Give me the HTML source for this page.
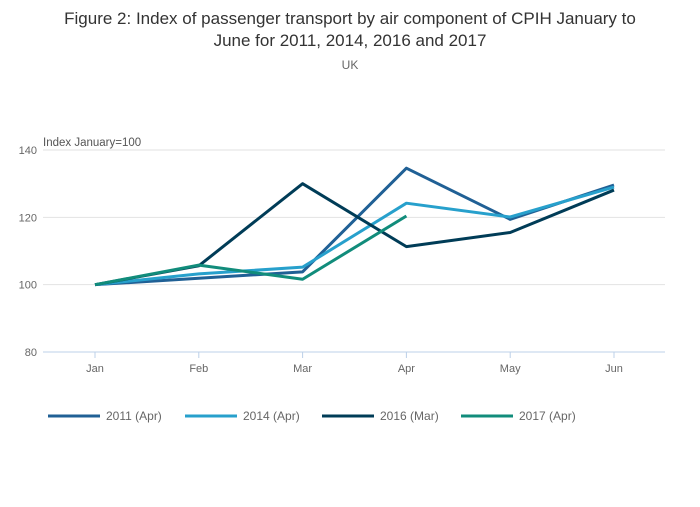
<!DOCTYPE html>
<html><head><meta charset="utf-8"><style>
body{margin:0;background:#fff;font-family:"Liberation Sans",sans-serif;}
svg text{font-family:"Liberation Sans",sans-serif;}
</style></head><body>
<svg width="700" height="502" id="c">
<text x="350" y="24" text-anchor="middle" font-size="17" fill="#333">Figure 2: Index of passenger transport by air component of CPIH January to</text>
<text x="350" y="46" text-anchor="middle" font-size="17" fill="#333">June for 2011, 2014, 2016 and 2017</text>
<text x="350" y="69" text-anchor="middle" font-size="12" fill="#666">UK</text>
<text x="43" y="146" font-size="11.5" fill="#555">Index January=100</text>
<g id="grid"></g><g id="lines"></g><g id="legend"></g>
</svg>
<script>
const months=["Jan","Feb","Mar","Apr","May","Jun"];
const yTicks=[80,100,120,140];
const seriesNames=["2011 (Apr)","2014 (Apr)","2016 (Mar)","2017 (Apr)"];
const s2011=[100,101.9,103.8,134.6,119.4,129.6];
const s2014=[100,103.2,105.2,124.2,120.1,129];
const s2016=[100,105.6,130,111.3,115.5,128.1];
const s2017=[100,105.8,101.6,120.4];
const colors=["#206095","#27a0cc","#003c57","#118c7b"];
const allSeries=[s2011,s2014,s2016,s2017];
const NS="http://www.w3.org/2000/svg";
const x=i=>95+i*103.8;
const y=v=>352-(v-80)*202/60;
function mk(t,a,p){const e=document.createElementNS(NS,t);for(const k in a)e.setAttribute(k,a[k]);p.appendChild(e);return e;}
const g=document.getElementById('grid');
yTicks.forEach(v=>{
 if(v>80){const l=mk('line',{x1:43,x2:665,y1:y(v),y2:y(v),stroke:'#e2e2e2','stroke-width':1},g);
 
 }
 const t=mk('text',{x:37,y:y(v)+4,'text-anchor':'end','font-size':11,fill:'#666'},g);t.textContent=v;
 
 
});
const ax=mk('line',{x1:43,x2:665,y1:352,y2:352,stroke:'#bcd0e8'},g);


months.forEach((m,i)=>{
 const tk=mk('line',{x1:x(i),x2:x(i),y1:352,y2:358,stroke:'#bcd0e8'},g);
 
 
 const t=mk('text',{x:x(i),y:372,'text-anchor':'middle','font-size':11,fill:'#666'},g);t.textContent=m;
 
 
});
const L=document.getElementById('lines');
allSeries.forEach((s,k)=>{
 const p=mk('polyline',{points:s.map((v,i)=>x(i)+','+y(v)).join(' '),fill:'none',stroke:colors[k],'stroke-width':3,'stroke-linejoin':'round'},L);
 
 
});
const lg=document.getElementById('legend');
const lx=[48,185,322,461];
seriesNames.forEach((n,k)=>{
 const grp=mk('g',{},lg);
 
 
 mk('line',{x1:lx[k],x2:lx[k]+52,y1:416,y2:416,stroke:colors[k],'stroke-width':3},grp);
 const t=mk('text',{x:lx[k]+58,y:420,'font-size':12,fill:'#666'},grp);t.textContent=n;
});
</script>
</body></html>
